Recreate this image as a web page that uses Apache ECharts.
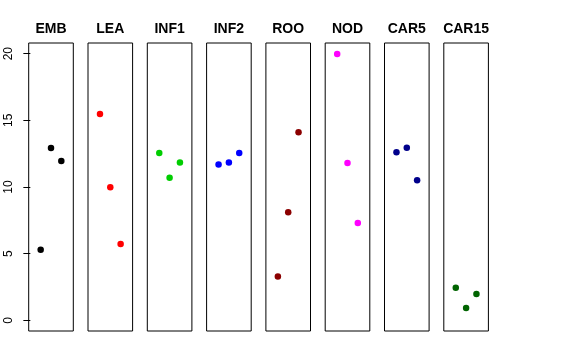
<!DOCTYPE html>
<html><head><meta charset="utf-8">
<script src="https://cdn.jsdelivr.net/npm/echarts@6/dist/echarts.min.js"></script>
<style>html,body{margin:0;padding:0;background:#fff}#c{width:576px;height:360px}</style>
</head><body><div id="c"></div>
<script>
const categories = ['EMB','LEA','INF1','INF2','ROO','NOD','CAR5','CAR15'];
const colors = ['#000000','#FF0000','#00CD00','#0000FF','#8B0000','#FF00FF','#00008B','#006400'];
const positions = [1, 2, 3];
const EMB = [5.30, 12.93, 11.95];
const LEA = [15.48, 9.98, 5.72];
const INF1 = [12.55, 10.70, 11.83];
const INF2 = [11.68, 11.83, 12.55];
const ROO = [3.28, 8.10, 14.10];
const NOD = [19.98, 11.80, 7.30];
const CAR5 = [12.60, 12.95, 10.50];
const CAR15 = [2.45, 0.92, 1.97];
const yTicks = [0, 5, 10, 15, 20];
const values = [EMB, LEA, INF1, INF2, ROO, NOD, CAR5, CAR15];

const panelLeft = 28.7, panelW = 44.6, panelStep = 59.3, panelTop = 43, panelH = 288;
const grid = [], xAxis = [], yAxis = [], series = [], graphic = [];
categories.forEach((cat, i) => {
  const left = panelLeft + i * panelStep;
  grid.push({left: left, top: panelTop, width: panelW, height: panelH, show: true, borderColor: '#000', borderWidth: 1, backgroundColor: 'transparent'});
  xAxis.push({gridIndex: i, type: 'value', min: -0.16, max: 4.16, show: false});
  yAxis.push({
    gridIndex: i, type: 'value', min: -0.8, max: 20.8,
    show: i === 0,
    axisLine: {show: false},
    splitLine: {show: false},
    axisTick: {show: true, length: 7, inside: false, lineStyle: {color: '#000', width: 1}, customValues: yTicks},
    axisLabel: {show: true, rotate: 90, margin: 14, color: '#000', fontSize: 12, fontFamily: 'Liberation Sans, Arial, sans-serif', customValues: yTicks}
  });
  series.push({
    type: 'scatter', xAxisIndex: i, yAxisIndex: i,
    data: positions.map((p, k) => [p, values[i][k]]),
    symbolSize: 6.5, itemStyle: {color: colors[i], opacity: 1},
    silent: true, animation: false
  });
  graphic.push({type: 'text', x: left + panelW / 2, y: 29.5, style: {text: cat, textAlign: 'center', textVerticalAlign: 'middle', font: 'bold 14px "Liberation Sans", Arial, sans-serif', fill: '#000'}});
});
const chart = echarts.init(document.getElementById('c'), null, {renderer: 'canvas'});
chart.setOption({animation: false, grid, xAxis, yAxis, series, graphic});
</script></body></html>
